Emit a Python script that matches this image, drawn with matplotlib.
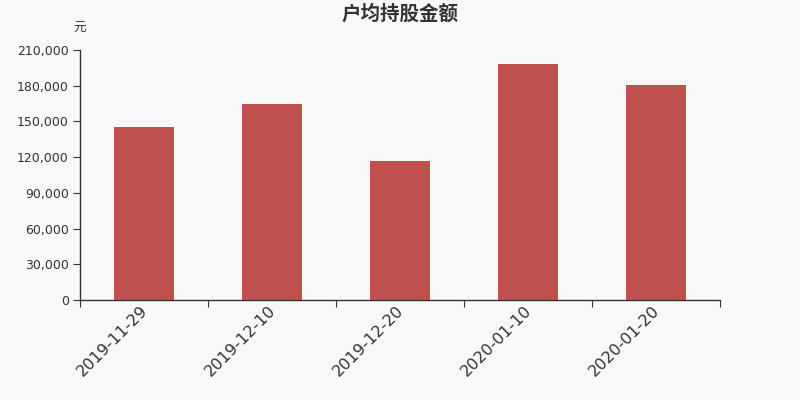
import matplotlib
matplotlib.use("Agg")
import matplotlib.pyplot as plt
import matplotlib.transforms as mtransforms
import numpy as np
from matplotlib.ticker import FuncFormatter, FixedLocator

plt.rcParams['font.family'] = ['Noto Sans CJK SC', 'DejaVu Sans']

categories = ["2019-11-29", "2019-12-10", "2019-12-20", "2020-01-10", "2020-01-20"]
values = [145000, 164400, 116500, 198000, 180600]
yticks = [0, 30000, 60000, 90000, 120000, 150000, 180000, 210000]

bg = "#f8f8f8"
bar_color = "#c0504d"
axis_color = "#333333"

fig = plt.figure(figsize=(8, 4), dpi=100, facecolor=bg)
ax = fig.add_axes([0.1, 0.25, 0.8, 0.625], facecolor=bg)

x = np.arange(len(categories))
ax.bar(x, values, width=0.47, color=bar_color, zorder=2)

ax.set_xlim(-0.5, len(categories) - 0.5)
ax.set_ylim(0, 210000)
ax.set_yticks(yticks)
ax.yaxis.set_major_formatter(FuncFormatter(lambda v, p: f"{int(v):,}"))

# category boundary ticks
ax.xaxis.set_major_locator(FixedLocator(np.arange(-0.5, len(categories), 1.0)))
ax.xaxis.set_major_formatter(FuncFormatter(lambda v, p: ""))
ax.xaxis.set_minor_locator(FixedLocator(x))
ax.set_xticklabels(categories, minor=True, rotation=45, ha='right',
                   rotation_mode='anchor', fontsize=11.5, color=axis_color,
                   family=['DejaVu Sans'])
ax.tick_params(axis='x', which='minor', length=0, pad=2)
ax.tick_params(axis='x', which='major', length=5, color=axis_color, direction='out')
ax.tick_params(axis='y', length=5, color=axis_color, labelsize=9,
               labelcolor=axis_color, pad=3)
offset = mtransforms.ScaledTranslation(-4 / 100, 0, fig.dpi_scale_trans)
for lbl in ax.get_xticklabels(minor=True):
    lbl.set_transform(lbl.get_transform() + offset)
for lbl in ax.get_yticklabels():
    lbl.set_family(['DejaVu Sans'])

for s in ['top', 'right']:
    ax.spines[s].set_visible(False)
for s in ['left', 'bottom']:
    ax.spines[s].set_color(axis_color)
    ax.spines[s].set_linewidth(1)

fig.text(0.4995, 0.965, "户均持股金额", ha='center', va='center', fontsize=14,
         fontweight='bold', color=axis_color)
fig.text(0.1, 0.93, "元", ha='center', va='center', fontsize=9, color=axis_color)

fig.savefig("out.png", dpi=100, facecolor=bg)
